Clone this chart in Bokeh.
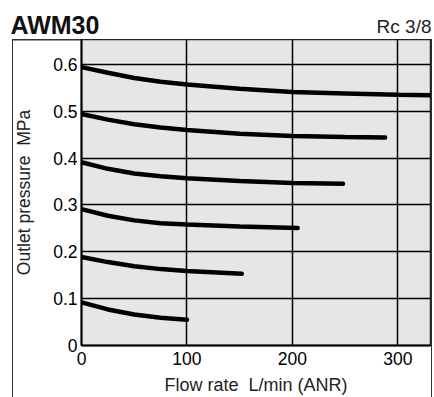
from bokeh.plotting import figure
from bokeh.layouts import column
from bokeh.models import Range1d, FixedTicker
from bokeh.core.properties import value
from bokeh.embed import file_html
from bokeh.resources import INLINE

# Data (flow rate L/min (ANR) vs outlet pressure MPa)
flow_06 = [0, 25, 50, 75, 100, 150, 200, 250, 300, 331]
pres_06 = [0.594, 0.582, 0.571, 0.563, 0.557, 0.548, 0.541, 0.538, 0.535, 0.534]
flow_05 = [0, 25, 50, 75, 100, 150, 200, 250, 288]
pres_05 = [0.494, 0.482, 0.472, 0.465, 0.460, 0.452, 0.447, 0.445, 0.444]
flow_04 = [0, 25, 50, 75, 100, 150, 200, 248]
pres_04 = [0.391, 0.377, 0.367, 0.361, 0.357, 0.351, 0.347, 0.345]
flow_03 = [0, 25, 50, 75, 100, 150, 205]
pres_03 = [0.291, 0.277, 0.267, 0.261, 0.258, 0.254, 0.251]
flow_02 = [0, 25, 50, 75, 100, 152]
pres_02 = [0.189, 0.178, 0.169, 0.163, 0.159, 0.153]
flow_01 = [0, 25, 50, 75, 100]
pres_01 = [0.092, 0.077, 0.066, 0.059, 0.055]

x_ticks = [0, 100, 200, 300]
y_ticks = [0, 0.1, 0.2, 0.3, 0.4, 0.5, 0.6]
y_labels = {0: "0", 0.1: "0.1", 0.2: "0.2", 0.3: "0.3", 0.4: "0.4", 0.5: "0.5", 0.6: "0.6"}

title_text = "AWM30"
port_text = "Rc 3/8"

FONT = "Liberation Sans"

# ---- header (title row) ----
h = figure(width=434, height=39, output_backend="svg", toolbar_location=None,
           x_range=Range1d(0, 434), y_range=Range1d(39, 0),
           min_border=0, x_axis_type=None, y_axis_type=None)
h.frame_align = False
h.grid.visible = False
h.outline_line_color = None
h.background_fill_color = None
h.border_fill_color = None
h.text(x=[10], y=[24.5], text=[title_text], text_font=value(FONT), text_font_size="25px",
       text_font_style="bold", text_color="#111111", text_baseline="middle", text_align="left")
h.text(x=[431], y=[26], text=[port_text], text_font=value(FONT), text_font_size="19px",
       text_color="#222222", text_baseline="middle", text_align="right")

# ---- main chart ----
p = figure(width=434, height=358, output_backend="svg", toolbar_location=None,
           x_range=Range1d(0, 331), y_range=Range1d(0, 0.653),
           min_border_left=81, min_border_right=4, min_border_top=0, min_border_bottom=52)
p.frame_align = False

p.background_fill_color = "#e6e6e6"
p.border_fill_color = None
p.outline_line_color = "#222222"
p.outline_line_width = 1.5

for xs, ys in [(flow_06, pres_06), (flow_05, pres_05), (flow_04, pres_04),
               (flow_03, pres_03), (flow_02, pres_02), (flow_01, pres_01)]:
    p.line(xs, ys, line_color="black", line_width=4.5, line_cap="round")

p.xaxis.ticker = FixedTicker(ticks=x_ticks)
p.yaxis.ticker = FixedTicker(ticks=y_ticks)
p.yaxis.major_label_overrides = y_labels

for ax in (p.xaxis[0], p.yaxis[0]):
    ax.axis_line_color = "black"
    ax.axis_line_width = 2
    ax.major_tick_line_color = None
    ax.minor_tick_line_color = None
    ax.major_tick_out = 0
    ax.major_tick_in = 0
    ax.minor_tick_out = 0
    ax.minor_tick_in = 0
    ax.major_label_text_font = FONT
    ax.major_label_text_font_size = "17.5px"
    ax.major_label_text_color = "black"
    ax.axis_label_text_font = FONT
    ax.axis_label_text_font_style = "normal"
    ax.axis_label_text_color = "#222222"

p.xaxis.axis_label = "Flow rate\u00a0 L/min (ANR)"
p.yaxis.axis_label = "Outlet pressure\u00a0 MPa"
p.xaxis.axis_label_text_font_size = "18px"
p.yaxis.axis_label_text_font_size = "17.5px"
p.xaxis.major_label_standoff = 6
p.yaxis.major_label_standoff = 4
p.xaxis.axis_label_standoff = 7
p.yaxis.axis_label_standoff = 16

p.grid.grid_line_color = "black"
p.grid.grid_line_width = 1.5
p.xgrid.ticker = FixedTicker(ticks=[100, 200, 300])
p.ygrid.ticker = FixedTicker(ticks=[0.1, 0.2, 0.3, 0.4, 0.5, 0.6])

# thin outer frame around the chart body (left, right and top edges)
p.styles = {
    "background-image": "linear-gradient(#333,#333), linear-gradient(#333,#333), linear-gradient(#333,#333)",
    "background-size": "1.3px 100%, 1.3px 100%, 420px 1.5px",
    "background-position": "12px 0px, 431px 0px, 12px 0px",
    "background-repeat": "no-repeat",
}

layout = column(h, p, spacing=0)
open("out.html", "w").write(file_html(layout, INLINE))
